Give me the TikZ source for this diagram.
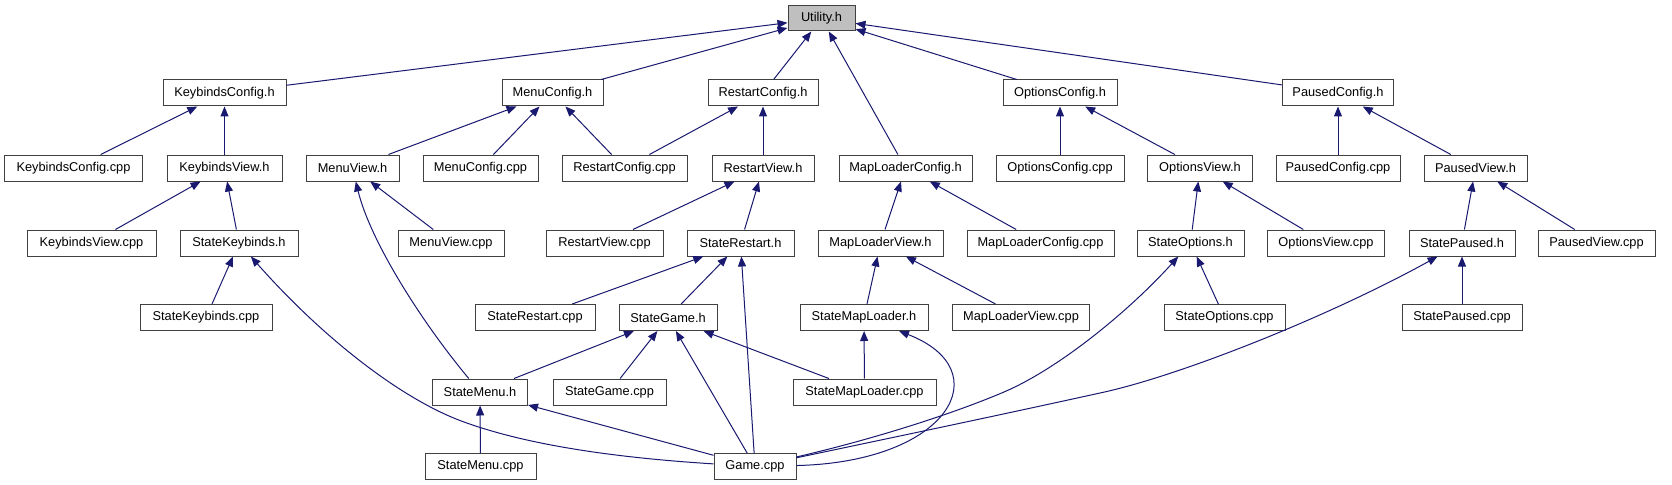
\documentclass[tikz,border=0pt]{standalone}
\usepackage{fontspec}
\setmainfont{Liberation Sans}
\usetikzlibrary{arrows.meta}
\definecolor{edgeblue}{RGB}{25,25,112}
\definecolor{rootgray}{RGB}{191,191,191}
\definecolor{boxline}{RGB}{64,64,64}
\tikzset{
  box/.style={draw=boxline, line width=0.75pt, fill=white, inner sep=0pt,
    minimum height=19.5pt, font=\fontsize{9.6}{11}\selectfont},
  bw/.style={minimum width=#1*0.75pt},
  dep/.style={draw=edgeblue, line width=0.75pt,
    -{Triangle[length=7.5pt,width=6pt]}},
}
\begin{document}
\begin{tikzpicture}[x=0.75pt,y=-0.75pt]
\useasboundingbox (0,0) rectangle (1672,485);
% row 1
\node[box,bw=67,fill=rootgray,minimum height=18.75pt] (U) at (821.5,18.5) {Utility.h};
% row 2
\node[box,bw=123] (KCh) at (224.5,93) {KeybindsConfig.h};
\node[box,bw=101] (MCh) at (552.5,93) {MenuConfig.h};
\node[box,bw=110] (RCh) at (763,93) {RestartConfig.h};
\node[box,bw=114] (OCh) at (1060,93) {OptionsConfig.h};
\node[box,bw=111] (PCh) at (1338,93) {PausedConfig.h};
% row 3
\node[box,bw=138] (KCc) at (73.5,168) {KeybindsConfig.cpp};
\node[box,bw=115] (KVh) at (224.5,168) {KeybindsView.h};
\node[box,bw=93] (MVh) at (352.5,168) {MenuView.h};
\node[box,bw=115] (MCc) at (480.5,168) {MenuConfig.cpp};
\node[box,bw=125] (RCc) at (624.5,168) {RestartConfig.cpp};
\node[box,bw=102] (RVh) at (763,168) {RestartView.h};
\node[box,bw=133] (MLCh) at (905.5,168) {MapLoaderConfig.h};
\node[box,bw=128] (OCc) at (1060,168) {OptionsConfig.cpp};
\node[box,bw=105] (OVh) at (1200,168) {OptionsView.h};
\node[box,bw=124] (PCc) at (1338,168) {PausedConfig.cpp};
\node[box,bw=103] (PVh) at (1475.5,168) {PausedView.h};
% row 4
\node[box,bw=129] (KVc) at (91.5,243) {KeybindsView.cpp};
\node[box,bw=118] (SKh) at (239,243) {StateKeybinds.h};
\node[box,bw=106] (MVc) at (451,243) {MenuView.cpp};
\node[box,bw=117] (RVc) at (604.5,243) {RestartView.cpp};
\node[box,bw=107] (SRh) at (740.5,243) {StateRestart.h};
\node[box,bw=125] (MLVh) at (880.5,243) {MapLoaderView.h};
\node[box,bw=147] (MLCc) at (1040.5,243) {MapLoaderConfig.cpp};
\node[box,bw=107] (SOh) at (1190.5,243) {StateOptions.h};
\node[box,bw=117] (OVc) at (1326,243) {OptionsView.cpp};
\node[box,bw=106] (SPh) at (1462,243) {StatePaused.h};
\node[box,bw=117] (PVc) at (1596.5,243) {PausedView.cpp};
% row 5
\node[box,bw=132] (SKc) at (206,317.5) {StateKeybinds.cpp};
\node[box,bw=120] (SRc) at (535,317.5) {StateRestart.cpp};
\node[box,bw=98] (SGh) at (668,317.5) {StateGame.h};
\node[box,bw=128] (SMLh) at (864,317.5) {StateMapLoader.h};
\node[box,bw=137] (MLVc) at (1021,317.5) {MapLoaderView.cpp};
\node[box,bw=121] (SOc) at (1224.5,317.5) {StateOptions.cpp};
\node[box,bw=120] (SPc) at (1462,317.5) {StatePaused.cpp};
% row 6
\node[box,bw=95] (SMh) at (480,392) {StateMenu.h};
\node[box,bw=113] (SGc) at (609.5,392) {StateGame.cpp};
\node[box,bw=143] (SMLc) at (864.5,392) {StateMapLoader.cpp};
% row 7
\node[box,bw=111] (SMc) at (480.5,466.5) {StateMenu.cpp};
\node[box,bw=82] (G) at (755,466.5) {Game.cpp};
% straight edges
\foreach \c/\p in {KCh/U, MCh/U, RCh/U, MLCh/U, OCh/U, PCh/U,
  KCc/KCh, KVh/KCh, MVh/MCh, MCc/MCh, RCc/MCh, RCc/RCh, RVh/RCh,
  OCc/OCh, OVh/OCh, PCc/PCh, PVh/PCh,
  KVc/KVh, SKh/KVh, MVc/MVh, RVc/RVh, SRh/RVh, MLVh/MLCh, MLCc/MLCh,
  SOh/OVh, OVc/OVh, SPh/PVh, PVc/PVh,
  SKc/SKh, SRc/SRh, SGh/SRh, G/SRh, SMLh/MLVh, MLVc/MLVh, SOc/SOh, SPc/SPh,
  SMh/SGh, SGc/SGh, G/SGh, SMLc/SGh, SMLc/SMLh,
  SMc/SMh, G/SMh}
  \draw[dep] (\c) -- (\p);
% curved edges
\draw[dep] (SMh) .. controls (420,320) and (370,240) .. (MVh);
\draw[dep] (G) .. controls (620,458) and (530,446) .. (464,422)
  .. controls (400,399) and (320,335) .. (SKh);
\draw[dep] (G) .. controls (870,440) and (950,415) .. (1004,392)
  .. controls (1060,368) and (1130,310) .. (SOh);
\draw[dep] (G) .. controls (900,436) and (1000,415) .. (1100,393)
  .. controls (1180,376) and (1330,316) .. (SPh);
\draw[dep] (G) .. controls (950,462) and (1000,370) .. (SMLh);
\end{tikzpicture}
\end{document}
